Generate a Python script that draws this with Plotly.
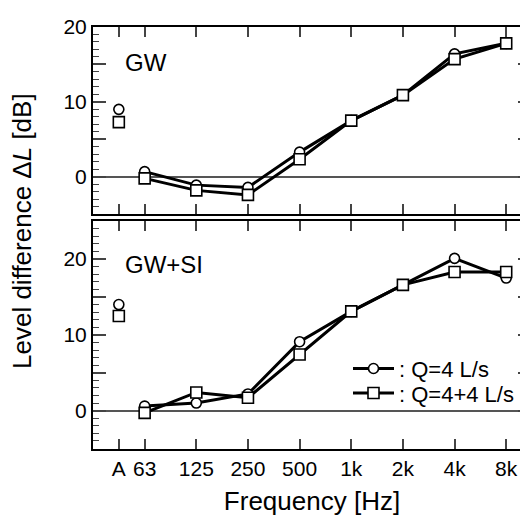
import plotly.graph_objects as go

# ---- data ----
band_labels = ['63', '125', '250', '500', '1k', '2k', '4k', '8k']
band_pos = [1, 2, 3, 4, 5, 6, 7, 8]
a_pos = [0.5]
tick_labels = ['A', '63', '125', '250', '500', '1k', '2k', '4k', '8k']
tick_pos = [0.5, 1, 2, 3, 4, 5, 6, 7, 8]

gw_q4 = [0.7, -1.1, -1.4, 3.3, 7.5, 10.9, 16.4, 17.8]
gw_q4_A = [9.0]
gw_q44 = [-0.2, -1.8, -2.4, 2.35, 7.5, 10.9, 15.7, 17.8]
gw_q44_A = [7.3]

si_q4 = [0.6, 1.0, 2.2, 9.1, 13.1, 16.6, 20.1, 17.5]
si_q4_A = [14.0]
si_q44 = [-0.3, 2.4, 1.7, 7.4, 13.1, 16.6, 18.3, 18.3]
si_q44_A = [12.5]

series_names = [': Q=4 L/s', ': Q=4+4 L/s']

FONT = 'Liberation Sans, Arial, sans-serif'
W, H = 528, 517

fig = go.Figure()

def add_panel(xa, ya, q4, q4A, q44, q44A, show_legend):
    for vals, valsA, sym, msize, name, lg in [(q4, q4A, 'circle', 10, series_names[0], 'legend'),
                                              (q44, q44A, 'square', 11, series_names[1], 'legend2')]:
        fig.add_trace(go.Scatter(
            x=band_pos, y=vals, mode='lines+markers', xaxis=xa, yaxis=ya,
            name=name, showlegend=show_legend, legend=lg,
            line=dict(color='black', width=3),
            marker=dict(symbol=sym, size=msize, color='white',
                        line=dict(color='black', width=1.6)),
        ))
        fig.add_trace(go.Scatter(
            x=a_pos, y=valsA, mode='markers', xaxis=xa, yaxis=ya, showlegend=False,
            marker=dict(symbol=sym, size=msize, color='white',
                        line=dict(color='black', width=1.6)),
        ))

add_panel('x', 'y', gw_q4, gw_q4_A, gw_q44, gw_q44_A, False)
add_panel('x2', 'y2', si_q4, si_q4_A, si_q44, si_q44_A, True)

xdom = [85 / W, 523 / W]
top_dom = [(H - 199) / H, (H - 7) / H]
bot_dom = [(H - 438.7) / H, (H - 206) / H]

xcommon = dict(range=[0, 8.48], domain=xdom, tickmode='array', tickvals=tick_pos,
               ticktext=tick_labels, ticks='inside', ticklen=10, tickwidth=1.5,
               tickcolor='#444', showline=True, linecolor='black', linewidth=2,
               mirror='ticks', showgrid=False, zeroline=False,
               tickfont=dict(family=FONT, size=21, color='black'))

ycommon = dict(tickmode='array', ticks='inside', ticklen=13, tickwidth=1.5,
               tickcolor='#444', showline=True, linecolor='black', linewidth=2,
               mirror='ticks', showgrid=False, zeroline=True, zerolinecolor='#555',
               zerolinewidth=1.5, tickfont=dict(family=FONT, size=21, color='black'),
               ticklabeloverflow='allow',
               minor=dict(dtick=1, ticks='inside', ticklen=6, tickwidth=1.2,
                          tickcolor='#444', showgrid=False))

leg = dict(xanchor='left', yanchor='middle', bgcolor='rgba(0,0,0,0)',
           font=dict(family=FONT, size=22), itemwidth=41, borderwidth=0)

fig.update_layout(
    width=W, height=H, margin=dict(l=0, r=0, t=0, b=0),
    paper_bgcolor='white', plot_bgcolor='white',
    font=dict(family=FONT, color='black'),
    xaxis=dict(xcommon, anchor='y', showticklabels=False),
    yaxis=dict(ycommon, domain=top_dom, anchor='x', range=[-5, 20],
               tickvals=[-5, 0, 5, 10, 15, 20], ticktext=['', '0', '', '10', '', '20']),
    xaxis2=dict(xcommon, anchor='y2', showticklabels=True,
                title=dict(text='Frequency [Hz]', font=dict(family=FONT, size=26), standoff=13)),
    yaxis2=dict(ycommon, domain=bot_dom, anchor='x2', range=[-5, 25],
                tickvals=[-5, 0, 5, 10, 15, 20, 25], ticktext=['', '0', '', '10', '', '20', '']),
    legend=dict(leg, x=340 / W, y=1 - 357 / H),
    legend2=dict(leg, x=340 / W, y=1 - 382 / H),
    annotations=[
        dict(text='GW', x=115 / W, y=1 - 44 / H, xref='paper', yref='paper',
             xanchor='left', yanchor='middle', showarrow=False,
             font=dict(family=FONT, size=24)),
        dict(text='GW+SI', x=115 / W, y=1 - 250 / H, xref='paper', yref='paper',
             xanchor='left', yanchor='middle', showarrow=False,
             font=dict(family=FONT, size=24)),
        dict(text='Level difference Δ<i>L</i> [dB]', x=14 / W, y=1 - 216 / H,
             xref='paper', yref='paper', xanchor='center', yanchor='middle',
             textangle=-90, showarrow=False, font=dict(family=FONT, size=26)),
    ],
)

fig.write_html('out.html')
